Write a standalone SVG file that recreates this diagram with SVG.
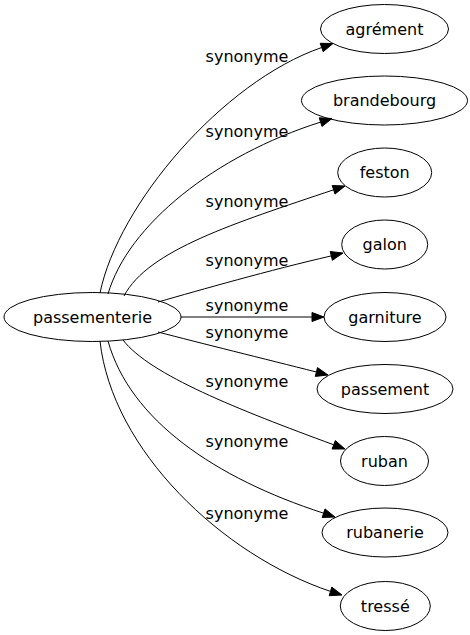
<svg xmlns="http://www.w3.org/2000/svg" width="470" height="635" viewBox="0 0 470 635">
<style>
  .node ellipse { fill: none; stroke: #000; stroke-width: 1; }
  .node text, .lbl { font-family: "DejaVu Sans", Verdana, sans-serif; font-size: 16px; fill: #000; text-anchor: middle; }
  .edges path { fill: none; stroke: #000; stroke-width: 1; }
  .edges polygon { fill: #000; stroke: #000; stroke-width: 1; }
</style>
<rect width="470" height="635" fill="#fff"/>
<g class="edges" id="edges">
  <path d="M100,293 C118,205 222,82 321.7,47.5"/>
  <polygon points="333,43.5 323.2,51.7 320.2,43.3"/>
  <text class="lbl" x="247" y="61.5">synonyme</text>

  <path d="M108,294 C128,225 215,155.5 320.6,122.1"/>
  <polygon points="332,118.5 322,126.4 319.2,117.8"/>
  <text class="lbl" x="247" y="136.5">synonyme</text>

  <path d="M124,296 C148,250 235,223 333.6,189.8"/>
  <polygon points="345,186 335,194.1 332.2,185.5"/>
  <text class="lbl" x="247" y="206.5">synonyme</text>

  <path d="M158,302 C200,290 270,270 331.3,255.9"/>
  <polygon points="343,253 332.4,260.3 330.2,251.5"/>
  <text class="lbl" x="247" y="266">synonyme</text>

  <path d="M181,317 L312,317"/>
  <polygon points="324,317 312,321.5 312,312.5"/>
  <text class="lbl" x="247" y="310.5">synonyme</text>

  <path d="M158,332 C200,343 265,359 316.4,372"/>
  <polygon points="328,375 315.3,376.4 317.5,367.6"/>
  <text class="lbl" x="247" y="338">synonyme</text>

  <path d="M123,340 C150,375 238,409.5 333.7,444.8"/>
  <polygon points="345,449 332.1,449 335.3,440.6"/>
  <text class="lbl" x="247" y="387">synonyme</text>

  <path d="M108,341 C130,420 215,478 323.6,513.2"/>
  <polygon points="335,517 322.2,517.5 325,508.9"/>
  <text class="lbl" x="247" y="447">synonyme</text>

  <path d="M100,341 C112,450 222,555 330.5,591.4"/>
  <polygon points="342,595 329.2,595.7 331.8,587.1"/>
  <text class="lbl" x="247" y="519">synonyme</text>
</g>
<g class="node" id="passementerie">
  <ellipse cx="92.5" cy="317" rx="88.5" ry="24.5"/>
  <text x="92.5" y="322.5">passementerie</text>
</g>
<g class="node" id="agrement">
  <ellipse cx="384.5" cy="29" rx="64" ry="24.5"/>
  <text x="384.5" y="34.5">agrément</text>
</g>
<g class="node" id="brandebourg">
  <ellipse cx="384.5" cy="100.5" rx="83" ry="24.5"/>
  <text x="384.5" y="106">brandebourg</text>
</g>
<g class="node" id="feston">
  <ellipse cx="384.7" cy="172.5" rx="47" ry="24.5"/>
  <text x="384.7" y="178">feston</text>
</g>
<g class="node" id="galon">
  <ellipse cx="384.7" cy="244.5" rx="43" ry="24.5"/>
  <text x="384.7" y="250">galon</text>
</g>
<g class="node" id="garniture">
  <ellipse cx="385" cy="317" rx="61" ry="24.5"/>
  <text x="385" y="322.5">garniture</text>
</g>
<g class="node" id="passement">
  <ellipse cx="385" cy="389" rx="68" ry="24.5"/>
  <text x="385" y="394.5">passement</text>
</g>
<g class="node" id="ruban">
  <ellipse cx="384.5" cy="461" rx="44" ry="24.5"/>
  <text x="384.5" y="466.5">ruban</text>
</g>
<g class="node" id="rubanerie">
  <ellipse cx="385" cy="532.5" rx="63" ry="24.5"/>
  <text x="385" y="538">rubanerie</text>
</g>
<g class="node" id="tresse">
  <ellipse cx="385.3" cy="606" rx="45" ry="24.5"/>
  <text x="385.3" y="611.5">tressé</text>
</g>
</svg>
